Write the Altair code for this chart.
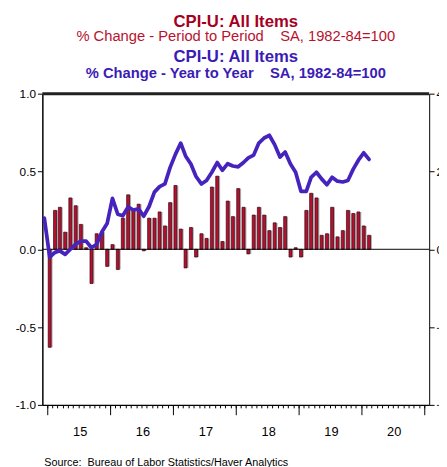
import altair as alt
import pandas as pd

# ---- data ----
mom_start = "2015-01-01"
mom_values = [
    -0.63, 0.25, 0.27, 0.11, 0.33, 0.28, 0.16, 0.01, -0.22, 0.10, 0.11, -0.11,
    0.03, -0.13, 0.20, 0.35, 0.25, 0.29, -0.01, 0.20, 0.20, 0.24, 0.15, 0.30,
    0.41, 0.13, -0.12, 0.14, -0.05, 0.10, 0.07, 0.40, 0.47, 0.05, 0.31, 0.21,
    0.39, 0.27, -0.03, 0.22, 0.27, 0.22, 0.12, 0.17, 0.14, 0.21, -0.05, 0.01,
    -0.05, 0.25, 0.36, 0.33, 0.09, 0.10, 0.27, 0.08, 0.12, 0.25, 0.23, 0.24,
    0.15, 0.09,
]
yoy_start = "2014-12-01"
yoy_values = [
    0.80,
    -0.20, -0.08, -0.04, -0.13, 0.00, 0.13, 0.21, 0.21, 0.04, 0.13, 0.45, 0.66,
    1.31, 0.90, 0.86, 1.09, 1.01, 1.04, 0.85, 1.10, 1.47, 1.61, 1.68, 2.10,
    2.44, 2.73, 2.40, 2.19, 1.87, 1.68, 1.77, 1.98, 2.23, 2.03, 2.20, 2.14,
    2.12, 2.23, 2.35, 2.42, 2.73, 2.86, 2.93, 2.69, 2.37, 2.50, 2.19, 1.98,
    1.49, 1.49, 1.85, 1.98, 1.81, 1.66, 1.85, 1.75, 1.73, 1.77, 2.06, 2.29,
    2.48, 2.31,
]
left_ticks = [-1.0, -0.5, 0.0, 0.5, 1.0]
right_ticks = [-4, -2, 0, 2, 4]
years = [2015, 2016, 2017, 2018, 2019, 2020, 2021]

title1 = "CPI-U: All Items"
title2 = "% Change - Period to Period\u00a0\u00a0\u00a0\u00a0SA, 1982-84=100"
title3 = "CPI-U: All Items"
title4 = "% Change - Year to Year\u00a0\u00a0\u00a0\u00a0SA, 1982-84=100"
source = "Source:\u00a0\u00a0Bureau of Labor Statistics/Haver Analytics"

FONT = "Liberation Sans"
W, H = 394, 317

mom_df = pd.DataFrame({
    "date": pd.date_range(mom_start, periods=len(mom_values), freq="MS") + pd.Timedelta(days=14),
    "mom": mom_values,
})
yoy_df = pd.DataFrame({
    "date": pd.date_range(yoy_start, periods=len(yoy_values), freq="MS") + pd.Timedelta(days=14),
    "yoy": yoy_values,
})

xdom = alt.Scale(domain=[alt.DateTime(year=2015, month=1, date=1),
                         alt.DateTime(year=2021, month=1, date=1)])
month_ticks = [alt.DateTime(year=y, month=m, date=1)
               for y in range(2015, 2021) for m in range(1, 13)] + [alt.DateTime(year=2021, month=1, date=1)]
year_ticks = [alt.DateTime(year=y, month=1, date=1) for y in years]

yleft = alt.Scale(domain=[-1, 1], nice=False, zero=False)
yright = alt.Scale(domain=[-4, 4], nice=False, zero=False)

left_axis = alt.Axis(values=left_ticks, tickSize=5, labelFontSize=12, labelFont=FONT,
                     labelColor="black", domainColor="black", domainWidth=1.5,
                     tickColor="black", grid=False, title=None, labelPadding=2,
                     orient="left",
                     labelExpr="replace(format(datum.value, '.1f'), '\u2212', '-')")
month_axis = alt.Axis(values=month_ticks, tickSize=3, labels=False, domain=True,
                      domainColor="black", domainWidth=1.5, tickColor="black",
                      grid=False, title=None, orient="bottom")

X = alt.X("date:T", scale=xdom, axis=month_axis)

shadow = alt.Chart(mom_df).mark_bar(size=3, color="#b4b4b4", xOffset=1.5).encode(
    x=X, y=alt.Y("mom:Q", scale=yleft, axis=left_axis),
)
bars = alt.Chart(mom_df).mark_bar(size=3, color="#b3122f", stroke="#3a0010", strokeWidth=0.7).encode(
    x=X, y=alt.Y("mom:Q", scale=yleft, axis=left_axis),
)
zero = alt.Chart(pd.DataFrame({"mom": [0.0]})).mark_rule(color="black", strokeWidth=1).encode(
    y=alt.Y("mom:Q", scale=yleft, axis=left_axis))
top = alt.Chart(pd.DataFrame({"mom": [1.0]})).mark_rule(color="#222222", strokeWidth=3).encode(
    y=alt.Y("mom:Q", scale=yleft, axis=left_axis))

left_layer = alt.layer(shadow, bars, zero, top)

line = alt.Chart(yoy_df).mark_line(color="#4723bd", strokeWidth=3.8, clip=True,
                                   strokeJoin="round", strokeCap="round").encode(
    x=alt.X("date:T", scale=xdom,
            axis=alt.Axis(values=year_ticks, tickSize=10, tickColor="black", domain=False,
                          orient="bottom",
                          labelExpr="year(datum.value) > 2020 ? '' : timeFormat(datum.value, '%y')",
                          labelOffset=33, labelFlush=False, labelOverlap=False,
                          labelFontSize=13, labelFont=FONT, labelColor="black",
                          labelPadding=11, grid=False, title=None)),
    y=alt.Y("yoy:Q", scale=yright,
            axis=alt.Axis(orient="right", values=right_ticks, format="d", tickSize=5,
                          labelFontSize=12, labelFont=FONT, labelColor="black",
                          domainColor="black", domainWidth=1, tickColor="black",
                          grid=False, title=None, labelPadding=2)),
)


def text_layer(txt, x, y, size, color, weight="normal", align="center"):
    return alt.Chart(pd.DataFrame({"t": [txt]})).mark_text(
        font=FONT, fontSize=size, fontWeight=weight, color=color, align=align,
        baseline="middle").encode(text="t:N", x=alt.value(x), y=alt.value(y))


texts = alt.layer(
    text_layer(title1, W / 2, -73, 17, "#a6001f", "bold"),
    text_layer(title2, W / 2, -59, 15, "#b8122f"),
    text_layer(title3, W / 2, -37, 17, "#3b1cb5", "bold"),
    text_layer(title4, W / 2, -21, 15, "#3b1cb5", "bold"),
    text_layer(source, 2, 376, 11, "black", align="left"),
)

chart = alt.layer(left_layer, line, texts).resolve_scale(y="independent").resolve_axis(
    x="independent").properties(
    width=W, height=H,
    autosize=alt.AutoSizeParams(type="none"),
    padding={"left": 35, "top": 83, "right": 10, "bottom": 59},
).configure_view(stroke=None)

chart.save("out.html", embed_options={"renderer": "svg", "actions": False})
